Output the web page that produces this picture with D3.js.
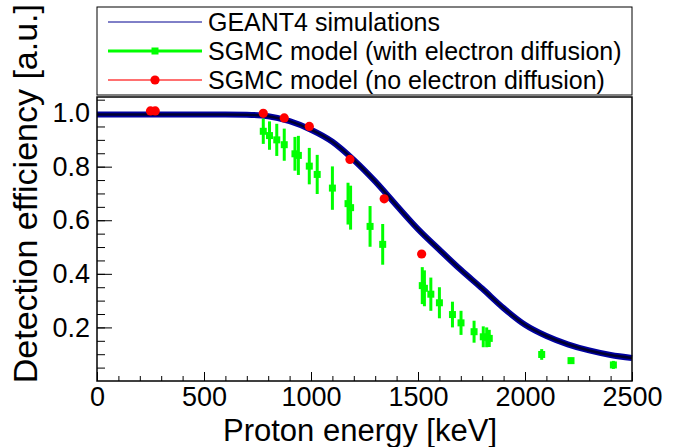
<!DOCTYPE html>
<html>
<head>
<meta charset="utf-8">
<script src="https://cdn.jsdelivr.net/npm/d3@7"></script>
<style>
  body { margin: 0; background: #fff; }
  svg text { font-family: "Liberation Sans", Arial, sans-serif; }
</style>
</head>
<body>
<script>
// GEANT4 simulated efficiency (read every 100 keV)
var geantEnergy = [0, 100, 200, 300, 400, 500, 600, 700, 800, 900, 1000, 1100, 1200, 1300,
                   1400, 1500, 1600, 1700, 1800, 1900, 2000, 2100, 2200, 2300, 2400, 2500];
var geantEff = [0.995, 0.995, 0.995, 0.995, 0.995, 0.995, 0.995, 0.994, 0.988, 0.97, 0.938, 0.893,
                0.825, 0.745, 0.655, 0.567, 0.49, 0.415, 0.345, 0.272, 0.21, 0.168, 0.137, 0.114,
                0.097, 0.086];

// SGMC model with electron diffusion (points + error)
var diffEnergy = [777, 806, 840, 875, 925, 941, 992, 1029, 1100, 1173, 1185, 1276, 1335,
                  1520, 1530, 1560, 1600, 1661, 1701, 1762, 1805, 1821, 1833, 2078, 2215, 2413];
var diffEff = [0.932, 0.916, 0.9, 0.882, 0.848, 0.842, 0.802, 0.771, 0.72, 0.662, 0.647, 0.577, 0.51,
               0.356, 0.346, 0.324, 0.292, 0.248, 0.217, 0.184, 0.165, 0.163, 0.159, 0.099, 0.076, 0.06];
var diffErr = [0.047, 0.053, 0.06, 0.06, 0.063, 0.073, 0.068, 0.073, 0.081, 0.078, 0.082, 0.076, 0.076,
               0.069, 0.067, 0.062, 0.058, 0.048, 0.045, 0.041, 0.039, 0.037, 0.032, 0.02, 0.011, 0.015];

// SGMC model without electron diffusion
var noDiffEnergy = [250, 272, 777, 875, 992, 1182, 1342, 1517];
var noDiffEff = [1.008, 1.008, 0.999, 0.982, 0.95, 0.827, 0.68, 0.474];

var xMajor = [0, 500, 1000, 1500, 2000, 2500];
var yMajor = [0.2, 0.4, 0.6, 0.8, 1.0];
var legendLabels = ["GEANT4 simulations", "SGMC model (with electron diffusion)", "SGMC model (no electron diffusion)"];

(function(){

var width = 679, height = 447;
var left = 97, right = 632, plotTop = 97, bottom = 381;

var svg = d3.select("body").append("svg")
    .attr("width", width)
    .attr("height", height);

var x = d3.scaleLinear().domain([0, 2500]).range([left, right]);
var y = d3.scaleLinear().domain([0, 1.06]).range([bottom, plotTop]);

// minor + major ticks, pointing inward
var xMinor = d3.range(0, 2501, 100);
var yMinor = d3.range(0.05, 1.06, 0.05);

svg.append("g")
    .attr("transform", "translate(0," + bottom + ")")
    .call(d3.axisBottom(x).tickValues(xMinor).tickSize(-5).tickFormat(""))
    .call(g => g.select(".domain").remove());

svg.append("g")
    .attr("class", "xaxis")
    .attr("transform", "translate(0," + bottom + ")")
    .call(d3.axisBottom(x).tickValues(xMajor).tickSize(-9).tickPadding(6).tickFormat(d3.format("d")))
    .call(g => g.select(".domain").remove());

svg.append("g")
    .attr("transform", "translate(" + left + ",0)")
    .call(d3.axisLeft(y).tickValues(yMinor).tickSize(-8).tickFormat(""))
    .call(g => g.select(".domain").remove());

svg.append("g")
    .attr("class", "yaxis")
    .attr("transform", "translate(" + left + ",0)")
    .call(d3.axisLeft(y).tickValues(yMajor).tickSize(-15).tickPadding(7).tickFormat(d3.format(".1f")))
    .call(g => g.select(".domain").remove());

svg.selectAll(".tick line").attr("stroke", "#000").attr("stroke-width", 1);
svg.selectAll(".xaxis text, .yaxis text")
    .style("font-size", "27px")
    .attr("fill", "#000");

// GEANT4 band
var geantData = geantEnergy.map((e, i) => [e, geantEff[i]]);
var line = d3.line()
    .x(d => x(d[0]))
    .y(d => y(d[1]))
    .curve(d3.curveMonotoneX);

svg.append("path")
    .datum(geantData)
    .attr("d", line)
    .attr("fill", "none")
    .attr("stroke", "#0000a0")
    .attr("stroke-width", 6);

svg.append("path")
    .datum(geantData)
    .attr("d", line)
    .attr("fill", "none")
    .attr("stroke", "#000030")
    .attr("stroke-width", 2.5);

// SGMC with diffusion: error bars + squares
var diffData = diffEnergy.map((e, i) => ({e: e, v: diffEff[i], err: diffErr[i]}));

svg.selectAll(".errbar")
    .data(diffData)
    .enter()
    .append("line")
    .attr("class", "errbar")
    .attr("x1", d => x(d.e))
    .attr("x2", d => x(d.e))
    .attr("y1", d => y(d.v - d.err))
    .attr("y2", d => y(d.v + d.err))
    .attr("stroke", "#00ff00")
    .attr("stroke-width", 3);

svg.selectAll(".sq")
    .data(diffData)
    .enter()
    .append("rect")
    .attr("class", "sq")
    .attr("x", d => x(d.e) - 3.5)
    .attr("y", d => y(d.v) - 3.5)
    .attr("width", 7)
    .attr("height", 7)
    .attr("fill", "#00ff00");

// SGMC without diffusion: red dots
svg.selectAll(".dot")
    .data(noDiffEnergy)
    .enter()
    .append("circle")
    .attr("class", "dot")
    .attr("cx", d => x(d))
    .attr("cy", (d, i) => y(noDiffEff[i]))
    .attr("r", 4.6)
    .attr("fill", "#ff0000");

// frame
svg.append("rect")
    .attr("x", left)
    .attr("y", plotTop)
    .attr("width", right - left)
    .attr("height", bottom - plotTop)
    .attr("fill", "none")
    .attr("stroke", "#000")
    .attr("stroke-width", 1.5);

// legend
var legend = svg.append("g");
legend.append("rect")
    .attr("x", left)
    .attr("y", 7)
    .attr("width", right - left)
    .attr("height", 88)
    .attr("fill", "#fff")
    .attr("stroke", "#000")
    .attr("stroke-width", 1);

var rowY = [22, 51, 80];
var legendColors = ["#000090", "#00ff00", "#ff4040"];
var legendWidths = [1, 3, 1.5];

legendLabels.forEach(function(lbl, i){
    legend.append("line")
        .attr("x1", 108).attr("x2", 202)
        .attr("y1", rowY[i]).attr("y2", rowY[i])
        .attr("stroke", legendColors[i])
        .attr("stroke-width", legendWidths[i]);
    if (i === 1) {
        legend.append("rect")
            .attr("x", 151.5).attr("y", rowY[i] - 3.5)
            .attr("width", 7).attr("height", 7)
            .attr("fill", "#00ff00");
    }
    if (i === 2) {
        legend.append("circle")
            .attr("cx", 155).attr("cy", rowY[i])
            .attr("r", 4.6)
            .attr("fill", "#ff0000");
    }
    legend.append("text")
        .attr("x", 208)
        .attr("y", rowY[i] + 9)
        .style("font-size", "25px")
        .text(lbl);
});

// axis titles
svg.append("text")
    .attr("x", 360)
    .attr("y", 441)
    .attr("text-anchor", "middle")
    .style("font-size", "31px")
    .text("Proton energy [keV]");

svg.append("text")
    .attr("transform", "translate(37,4) rotate(-90)")
    .attr("text-anchor", "end")
    .style("font-size", "34px")
    .text("Detection efficiency [a.u.]");

})();
</script>
</body>
</html>
